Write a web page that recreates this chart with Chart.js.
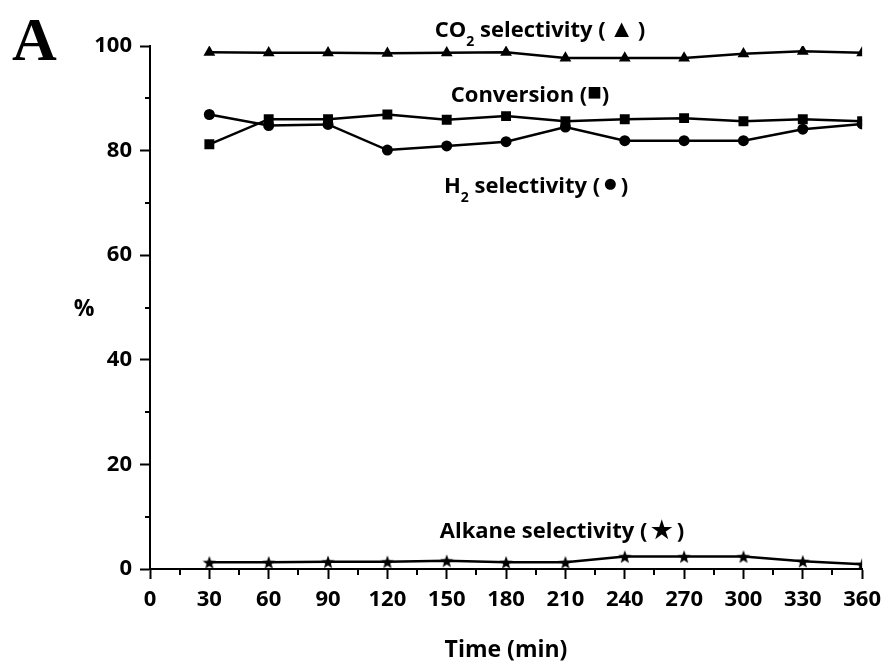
<!DOCTYPE html>
<html>
<head>
<meta charset="utf-8">
<script src="https://cdn.jsdelivr.net/npm/chart.js@4.4.1/dist/chart.umd.min.js"></script>
<style>
  html, body { margin: 0; padding: 0; background: #fff; }
  #wrap { width: 889px; height: 666px; position: relative; }
</style>
</head>
<body>
<div id="wrap"><canvas id="chart"></canvas></div>
<script>
const timeMin = [30, 60, 90, 120, 150, 180, 210, 240, 270, 300, 330, 360];
const co2Sel = [98.8, 98.7, 98.7, 98.6, 98.7, 98.8, 97.7, 97.7, 97.7, 98.5, 99.0, 98.7];
const conversion = [81.2, 86.0, 86.0, 86.9, 85.9, 86.6, 85.6, 86.0, 86.2, 85.6, 86.0, 85.6];
const h2Sel = [86.9, 84.8, 85.0, 80.1, 80.9, 81.7, 84.5, 81.9, 81.9, 81.9, 84.1, 85.1];
const alkaneSel = [1.3, 1.3, 1.4, 1.4, 1.6, 1.3, 1.3, 2.4, 2.4, 2.4, 1.5, 0.9];

const FONT = '"Open Sans", Lato, sans-serif';

function makeStar(size) {
    const c = document.createElement('canvas');
    c.width = size; c.height = size;
    const g = c.getContext('2d');
    const cx = size / 2, cy = size / 2 + 0.8, R = size / 2, r = R * 0.42;
    g.beginPath();
    for (let i = 0; i < 10; i++) {
        const a = -Math.PI / 2 + i * Math.PI / 5;
        const rr = i % 2 === 0 ? R : r;
        g.lineTo(cx + rr * Math.cos(a), cy + rr * Math.sin(a));
    }
    g.closePath();
    g.fillStyle = '#000';
    g.fill();
    return c;
}

function pts(arr) {
    return arr.map((v, i) => ({ x: timeMin[i], y: v }));
}

function series(label, data, style, radius) {
    return {
        label: label,
        data: pts(data),
        borderColor: '#000',
        backgroundColor: '#000',
        borderWidth: 2.5,
        pointStyle: style,
        pointRadius: radius,
        pointBorderWidth: 0,
        tension: 0
    };
}

// minor ticks + free text (labels sit at fixed spots like in the figure)
const extras = {
    id: 'extras',
    afterDraw(chart) {
        const ctx = chart.ctx;
        const xs = chart.scales.x, ys = chart.scales.y;
        ctx.save();
        ctx.strokeStyle = '#000';
        ctx.lineWidth = 2;
        ctx.beginPath();
        for (let v = 10; v < 100; v += 20) {
            const y = Math.round(ys.getPixelForValue(v));
            ctx.moveTo(xs.left - 5, y); ctx.lineTo(xs.left, y);
        }
        for (let v = 15; v < 360; v += 30) {
            const x = Math.round(xs.getPixelForValue(v));
            ctx.moveTo(x, ys.bottom); ctx.lineTo(x, ys.bottom + 6);
        }
        ctx.stroke();

        ctx.fillStyle = '#000';
        ctx.textBaseline = 'alphabetic';
        ctx.font = 'bold 62px "Liberation Serif", "Times New Roman", serif';
        ctx.fillText('A', 12, 60);

        ctx.font = 'bold 23px ' + FONT;
        ctx.textAlign = 'center';
        ctx.fillText('%', 84, 316);
        ctx.fillText('Time (min)', 506, 657);

        // parts: [text, fontSize, dy]
        function label(parts, cx, base) {
            let total = 0;
            parts.forEach(p => {
                ctx.font = 'bold ' + p[1] + 'px ' + FONT;
                p.w = ctx.measureText(p[0]).width;
                total += p.w;
            });
            let x = cx - total / 2;
            ctx.textAlign = 'left';
            parts.forEach(p => {
                ctx.font = 'bold ' + p[1] + 'px ' + FONT;
                ctx.fillText(p[0], x, base + p[2]);
                x += p.w;
            });
        }
        const sp = '\u2009';
        label([['CO', 22, 0], ['2', 14, 9], [' selectivity (' + sp, 22, 0], ['\u25B2', 25, 0], [sp + ')', 22, 0]], 540, 37);
        label([['Conversion (', 22, 0], ['\u25A0', 24, -2], [')', 22, 0]], 530, 102);
        label([['H', 22, 0], ['2', 14, 9], [' selectivity (' + sp, 22, 0], ['\u25CF', 22, -2], [sp + ')', 22, 0]], 536, 193);
        label([['Alkane selectivity (' + sp, 22, 0], ['\u2605', 24, 0], [sp + ')', 22, 0]], 562, 538);
        ctx.restore();
    }
};

new Chart(document.getElementById('chart'), {
    type: 'line',
    data: {
        datasets: [
            series('CO2 selectivity', co2Sel, 'triangle', 6.8),
            series('Conversion', conversion, 'rect', 7),
            series('H2 selectivity', h2Sel, 'circle', 5.5),
            series('Alkane selectivity', alkaneSel, makeStar(14), 7)
        ]
    },
    options: {
        responsive: true,
        maintainAspectRatio: false,
        animation: false,
        layout: { padding: { top: 46, right: 21, left: 0, bottom: 0 } },
        plugins: { legend: { display: false }, tooltip: { enabled: false } },
        scales: {
            x: {
                type: 'linear',
                min: 0, max: 360,
                afterFit: (s) => { s.height = 97; },
                ticks: {
                    stepSize: 30,
                    color: '#000',
                    font: { family: FONT, size: 22, weight: 'bold' },
                    padding: 8,
                    maxRotation: 0,
                    autoSkip: false
                },
                grid: {
                    drawOnChartArea: false,
                    tickLength: 10,
                    tickWidth: 2,
                    tickColor: '#000'
                },
                border: { display: true, color: '#000', width: 2 }
            },
            y: {
                min: 0, max: 100,
                afterFit: (s) => { s.width = 150; },
                ticks: {
                    stepSize: 20,
                    color: '#000',
                    font: { family: FONT, size: 22, weight: 'bold' },
                    padding: 8
                },
                grid: {
                    drawOnChartArea: false,
                    tickLength: 10,
                    tickWidth: 2,
                    tickColor: '#000'
                },
                border: { display: true, color: '#000', width: 2 }
            }
        }
    },
    plugins: [extras]
});
</script>
</body>
</html>
